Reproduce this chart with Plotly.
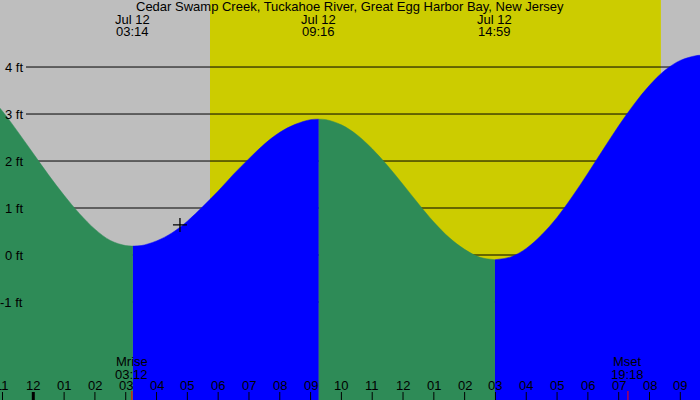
import plotly.graph_objects as go

# ---- data ----
title = "Cedar Swamp Creek, Tuckahoe River, Great Egg Harbor Bay, New Jersey"

# hours from midnight Jul 12 ; heights in ft
tide_times = [-2, -1.5, -1, -0.5, 0, 0.5, 1, 1.5, 2, 2.5, 3, 3.233,
              3.5, 4, 4.5, 5, 5.5, 6, 6.5, 7, 7.5, 8, 8.5, 9, 9.267,
              9.5, 10, 10.5, 11, 11.5, 12, 12.5, 13, 13.5, 14, 14.5, 14.983,
              15.5, 16, 16.5, 17, 17.5, 18, 18.5, 19, 19.5, 20, 20.5, 21, 21.5, 21.667, 22]
tide_heights = [3.72, 3.43, 3.06, 2.62, 2.16, 1.70, 1.27, 0.88, 0.55, 0.31, 0.20, 0.19,
                0.20, 0.30, 0.47, 0.72, 1.03, 1.36, 1.72, 2.05, 2.36, 2.61, 2.78, 2.88, 2.89,
                2.88, 2.77, 2.56, 2.26, 1.90, 1.50, 1.09, 0.70, 0.37, 0.12, -0.05, -0.10,
                -0.04, 0.14, 0.43, 0.80, 1.25, 1.74, 2.25, 2.75, 3.21, 3.61, 3.93, 4.14, 4.24, 4.25, 4.24]

event_times = [3.233, 9.267, 14.983, 21.667]
event_dates = ["Jul 12", "Jul 12", "Jul 12", "Jul 12"]
event_labels = ["03:14", "09:16", "14:59", "21:40"]

sunrise, sunset = 5.735, 20.37

moon_times = [3.2, 19.3]
moon_names = ["Mrise", "Mset"]
moon_labels = ["03:12", "19:18"]

hour_ticks = list(range(-1, 22))
hour_labels = ["11", "12", "01", "02", "03", "04", "05", "06", "07", "08", "09", "10", "11",
               "12", "01", "02", "03", "04", "05", "06", "07", "08", "09"]

grid_levels = [4, 3, 2, 1, 0, -1]
grid_labels = ["4 ft", "3 ft", "2 ft", "1 ft", "0 ft", "-1 ft"]

now_time, now_height = 4.76, 0.64

# ---- styling ----
GRAY = "#BEBEBE"
YELLOW = "#CCCC00"
GREEN = "#2E8B57"
BLUE = "#0000FF"
FONT = "Liberation Sans"
W, H = 700, 400
xr = [-1.0808, 21.639]
yr = [-3.085, 5.426]

fig = go.Figure()

# split tide series into falling (green) / rising (blue) segments at extremes
bounds = [tide_times[0]] + event_times[:-1] + [tide_times[-1]]
for i in range(len(bounds) - 1):
    a, b = bounds[i], bounds[i + 1]
    xs = [t for t in tide_times if a <= t <= b]
    ys = [h for t, h in zip(tide_times, tide_heights) if a <= t <= b]
    color = GREEN if ys[0] > ys[-1] else BLUE
    fig.add_trace(go.Scatter(x=[xs[0], xs[-1]], y=[-10, -10], mode="lines",
                             line=dict(width=0), hoverinfo="skip", showlegend=False))
    fig.add_trace(go.Scatter(x=xs, y=ys, mode="lines", fill="tonexty", fillcolor=color,
                             line=dict(color=color, width=0.5, shape="spline"),
                             hoverinfo="skip", showlegend=False))

fig.add_trace(go.Scatter(x=[now_time], y=[now_height], mode="markers",
                         marker=dict(symbol="cross-thin", size=10,
                                     line=dict(color="black", width=1.3)),
                         showlegend=False, hoverinfo="skip"))

shapes = []
shapes.append(dict(type="rect", xref="x", yref="paper", x0=sunrise, x1=sunset, y0=0, y1=1,
                   fillcolor=YELLOW, line=dict(width=0), layer="below"))
for lv in grid_levels:
    shapes.append(dict(type="line", xref="paper", yref="y", x0=26 / W, x1=1, y0=lv, y1=lv,
                       line=dict(color="black", width=1), layer="below"))
for t in hour_ticks:
    shapes.append(dict(type="line", xref="x", yref="paper", x0=t, x1=t, y0=0, y1=8 / H,
                       line=dict(color="black", width=3 if t % 24 == 0 else 1)))
for t in moon_times:
    shapes.append(dict(type="line", xref="x", yref="paper", x0=t, x1=t, y0=0, y1=9 / H,
                       line=dict(color="red", width=1)))

ann = []
fnt = dict(family=FONT, size=13, color="black")


def py(pix):
    return 1 - pix / H


ann.append(dict(text=title, xref="paper", yref="paper", x=0.5, y=py(7), xanchor="center",
                yanchor="middle", showarrow=False, font=fnt))
for t, d, l in zip(event_times, event_dates, event_labels):
    ann.append(dict(text=d, xref="x", yref="paper", x=t, y=py(19.5), xanchor="center",
                    yanchor="middle", showarrow=False, font=fnt))
    ann.append(dict(text=l, xref="x", yref="paper", x=t, y=py(32), xanchor="center",
                    yanchor="middle", showarrow=False, font=fnt))
for t, n, l in zip(moon_times, moon_names, moon_labels):
    ann.append(dict(text=n, xref="x", yref="paper", x=t, y=py(361), xanchor="center",
                    yanchor="middle", showarrow=False, font=fnt))
    ann.append(dict(text=l, xref="x", yref="paper", x=t, y=py(374), xanchor="center",
                    yanchor="middle", showarrow=False, font=fnt))
for t, l in zip(hour_ticks, hour_labels):
    ann.append(dict(text=l, xref="x", yref="paper", x=t, y=py(385.5), xanchor="center",
                    yanchor="middle", showarrow=False, font=fnt))
for lv, l in zip(grid_levels, grid_labels):
    ann.append(dict(text=l, xref="paper", yref="y", x=25 / W, y=lv, xanchor="right",
                    yanchor="middle", showarrow=False, font=fnt))

fig.update_layout(
    width=W, height=H, margin=dict(l=0, r=0, t=0, b=0),
    paper_bgcolor=GRAY, plot_bgcolor=GRAY,
    xaxis=dict(range=xr, showgrid=False, zeroline=False, showticklabels=False, ticks=""),
    yaxis=dict(range=yr, showgrid=False, zeroline=False, showticklabels=False, ticks=""),
    shapes=shapes, annotations=ann, showlegend=False,
)

fig.write_html("out.html")
